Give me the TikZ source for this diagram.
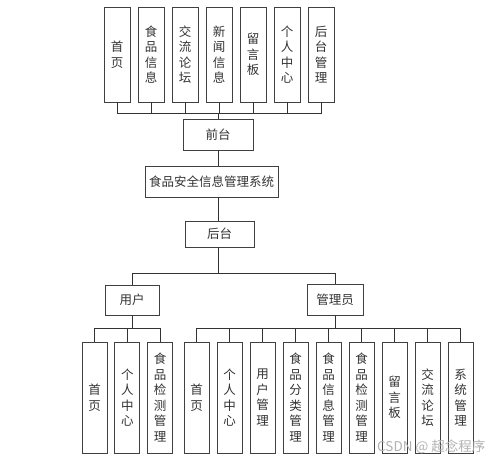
\documentclass[tikz,border=0pt]{standalone}
\usepackage{fontspec}
\setmainfont{Noto Sans CJK SC}
\begin{document}
\begin{tikzpicture}[x=1pt,y=-1pt,
  box/.style={draw=black!75, line width=0.8pt, inner sep=0pt, align=center, font=\fontsize{12.5}{15.5}\selectfont, text=black!80},
  topbox/.style={box, minimum width=26pt, minimum height=95pt},
  botbox/.style={box, minimum width=25pt, minimum height=111pt},
  hbox/.style={box, font=\fontsize{12.5}{14}\selectfont},
  conn/.style={draw=black!80, line width=0.8pt}]
\fill[white] (0,0) rectangle (500,461);
\useasboundingbox (0,0) rectangle (500,461);
% top row
\foreach \t [count=\i from 0] in {首\\页, 食\\品\\信\\息, 交\\流\\论\\坛, 新\\闻\\信\\息, 留\\言\\板, 个\\人\\中\\心, 后\\台\\管\\理}
  \node[topbox] (t\i) at ({117+34*\i},54.5) {\t};
\node[hbox, minimum width=70pt, minimum height=31pt] (qt) at (218,134.5) {前台};
\node[hbox, minimum width=133pt, minimum height=31pt] (sys) at (211.5,181.5) {食品安全信息管理系统};
\node[hbox, minimum width=69pt, minimum height=26pt] (ht) at (219.5,234) {后台};
\node[hbox, minimum width=54pt, minimum height=30pt] (yh) at (132,300) {用户};
\node[hbox, minimum width=56pt, minimum height=31pt] (gly) at (335,299.5) {管理员};
\coordinate (b1) at (218,113);
\coordinate (b2) at (218,273);
\coordinate (b3) at (132,328);
\coordinate (b4) at (335,328);
\foreach \i in {0,...,6} \draw[conn] (t\i.south) |- (b1);
\draw[conn] (b1) -- (qt.north);
\draw[conn] (qt.south) -- (qt.south |- sys.north);
\draw[conn] (sys.south -| qt.south) -- (ht.north -| qt.south);
\draw[conn] (ht.south -| b2) -- (b2);
\draw[conn] (b2) -| (yh.north);
\draw[conn] (b2) -| (gly.north);
% user children
\foreach \t [count=\i from 0] in {首\\页, 个\\人\\中\\心, 食\\品\\检\\测\\管\\理}
  \node[botbox] (u\i) at ({94.5+32.8*\i},397.5) {\t};
\draw[conn] (yh.south) -- (b3);
\foreach \i in {0,1,2} \draw[conn] (u\i.north) |- (b3);
% admin children
\foreach \t [count=\i from 0] in {首\\页, 个\\人\\中\\心, 用\\户\\管\\理, 食\\品\\分\\类\\管\\理, 食\\品\\信\\息\\管\\理, 食\\品\\检\\测\\管\\理, 留\\言\\板, 交\\流\\论\\坛, 系\\统\\管\\理}
  \node[botbox] (a\i) at ({196.5+33*\i},397.5) {\t};
\draw[conn] (gly.south) -- (b4);
\foreach \i in {0,...,8} \draw[conn] (a\i.north) |- (b4);
\node[text=black!30, font=\fontsize{13.5}{15}\selectfont, anchor=west, inner sep=0pt] (wm) at (377,447) {CSDN @ 超念程序};
\end{tikzpicture}
\end{document}
